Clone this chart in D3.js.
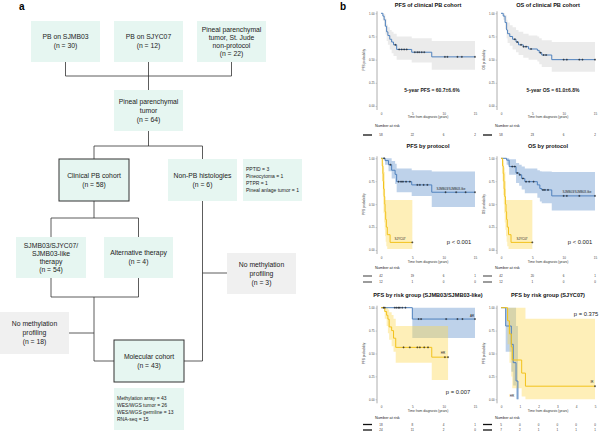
<!DOCTYPE html>
<html>
<head>
<meta charset="utf-8">
<script src="https://cdn.jsdelivr.net/npm/d3@7"></script>
<style>
  body { margin: 0; background: #fff; }
  svg { font-family: "Liberation Sans", Arial, Helvetica, sans-serif; }
</style>
</head>
<body>
<svg id="fig" width="600" height="433"></svg>
<script>
// ---------------- panel a: flowchart labels ----------------
const flowLabels = {
  sjmb03:   ['PB on SJMB03', '(n = 30)'],
  sjyc07:   ['PB on SJYC07', '(n = 12)'],
  nonprot:  ['Pineal parenchymal', 'tumor, St. Jude', 'non-protocol', '(n = 22)'],
  ppt:      ['Pineal parenchymal', 'tumor', '(n = 64)'],
  clinical: ['Clinical PB cohort', '(n = 58)'],
  nonpb:    ['Non-PB histologies', '(n = 6)'],
  histo:    ['PPTID = 3', 'Pineocytoma = 1', 'PTPR = 1', 'Pineal anlage tumor = 1'],
  therapy:  ['SJMB03/SJYC07/', 'SJMB03-like', 'therapy', '(n = 54)'],
  alt:      ['Alternative therapy', '(n = 4)'],
  nometh3:  ['No methylation', 'profiling', '(n = 3)'],
  nometh18: ['No methylation', 'profiling', '(n = 18)'],
  molecular:['Molecular cohort', '(n = 43)'],
  assays:   ['Methylation array = 43', 'WES/WGS tumor = 26', 'WES/WGS germline = 13', 'RNA-seq =  15']
};

// ---------------- panel b: survival data ----------------
// PFS of clinical PB cohort
const pfsAllTime  = [0, 0.3, 0.5, 0.7, 0.9, 1.1, 1.4, 1.7, 2.0, 2.5, 4.9, 8.1, 15];
const pfsAllSurv  = [1, 0.97, 0.93, 0.86, 0.80, 0.76, 0.72, 0.69, 0.66, 0.61, 0.58, 0.53, 0.53];
const pfsAllUpper = [1, 1, 0.99, 0.94, 0.88, 0.85, 0.82, 0.80, 0.78, 0.75, 0.73, 0.70, 0.70];
const pfsAllLower = [1, 0.92, 0.86, 0.77, 0.70, 0.66, 0.61, 0.57, 0.54, 0.50, 0.47, 0.39, 0.39];
const pfsAllCens  = [2.3, 2.9, 3.3, 3.7, 4.1, 5.4, 5.8, 6.1, 6.5, 6.9, 10.2, 10.6, 12.2, 12.9, 15];

// OS of clinical PB cohort
const osAllTime  = [0, 0.35, 0.65, 0.9, 1.05, 1.4, 1.85, 2.4, 2.8, 3.55, 4.4, 5.8, 6.1, 6.5, 8.1, 15];
const osAllSurv  = [1, 0.97, 0.90, 0.82, 0.78, 0.75, 0.72, 0.69, 0.66, 0.64, 0.615, 0.60, 0.575, 0.55, 0.50, 0.50];
const osAllUpper = [1, 1, 0.98, 0.93, 0.90, 0.87, 0.85, 0.82, 0.80, 0.78, 0.76, 0.75, 0.73, 0.71, 0.69, 0.69];
const osAllLower = [1, 0.93, 0.83, 0.73, 0.68, 0.65, 0.61, 0.58, 0.55, 0.52, 0.50, 0.48, 0.45, 0.42, 0.37, 0.37];
const osAllCens  = [2.2, 2.6, 3.2, 3.6, 4.0, 4.8, 6.3, 6.8, 7.2, 10.0, 10.5, 12.5, 13.0, 15];

// PFS by protocol
const pfsMbTime  = [0, 0.65, 1.2, 1.7, 2.25, 2.5, 4.9, 8.1, 15];
const pfsMbSurv  = [1, 0.975, 0.93, 0.87, 0.825, 0.745, 0.71, 0.63, 0.63];
const pfsMbUpper = [1, 1, 1, 0.97, 0.94, 0.89, 0.87, 0.855, 0.855];
const pfsMbLower = [1, 0.93, 0.86, 0.78, 0.72, 0.63, 0.59, 0.47, 0.47];
const pfsMbCens  = [0.5, 1.5, 2.8, 3.2, 3.5, 4.0, 4.6, 5.8, 6.2, 6.8, 7.4, 10.3, 12.0, 13.5, 15];
const pfsYcTime  = [0, 0.2, 0.3, 0.35, 0.4, 0.5, 0.6, 0.65, 0.75, 0.85, 1.0, 1.45, 5];
const pfsYcSurv  = [1, 0.917, 0.833, 0.75, 0.667, 0.583, 0.5, 0.417, 0.333, 0.25, 0.167, 0.083, 0.083];
const pfsYcUpper = [1, 1, 0.98, 0.95, 0.90, 0.85, 0.75, 0.545, 0.545, 0.545, 0.545, 0.545, 0.545];
const pfsYcLower = [1, 0.75, 0.6, 0.5, 0.4, 0.3, 0.22, 0.15, 0.09, 0.04, 0.01, 0.01, 0.01];
const pfsYcCens  = [5];

// OS by protocol
const osMbTime  = [0, 0.9, 1.3, 2.4, 2.9, 3.3, 3.8, 5.8, 6.2, 6.5, 8.1, 15];
const osMbSurv  = [1, 0.98, 0.91, 0.84, 0.82, 0.78, 0.745, 0.71, 0.67, 0.655, 0.59, 0.59];
const osMbUpper = [1, 1, 0.99, 0.95, 0.93, 0.91, 0.89, 0.87, 0.86, 0.855, 0.85, 0.85];
const osMbLower = [1, 0.93, 0.82, 0.73, 0.70, 0.66, 0.62, 0.57, 0.53, 0.51, 0.43, 0.43];
const osMbCens  = [1.8, 2.2, 2.6, 3.0, 3.5, 4.0, 4.5, 5.2, 6.7, 7.0, 7.5, 10.0, 10.5, 12.5, 15];
const osYcTime  = [0, 0.25, 0.35, 0.45, 0.5, 0.6, 0.7, 0.8, 0.9, 1.0, 1.2, 1.6, 5];
const osYcSurv  = [1, 0.917, 0.833, 0.75, 0.667, 0.583, 0.5, 0.417, 0.333, 0.25, 0.167, 0.083, 0.083];
const osYcUpper = [1, 1, 0.98, 0.95, 0.90, 0.85, 0.75, 0.545, 0.545, 0.545, 0.545, 0.545, 0.545];
const osYcLower = [1, 0.75, 0.6, 0.5, 0.4, 0.3, 0.22, 0.15, 0.09, 0.04, 0.01, 0.01, 0.01];
const osYcCens  = [5];

// PFS by risk group (SJMB03/SJMB03-like)
const riskArTime  = [0, 5, 15];
const riskArSurv  = [1, 0.876, 0.876];
const riskArUpper = [1, 1, 1];
const riskArLower = [1, 0.67, 0.67];
const riskArCens  = [0.4, 0.6, 2.2, 2.5, 2.8, 3.0, 3.4, 3.9, 6.0, 6.4, 10.4, 12.2, 13.0, 15];
const riskHrTime  = [0, 0.6, 0.9, 1.1, 1.3, 1.7, 2.0, 2.35, 8.1, 10.7];
const riskHrSurv  = [1, 0.958, 0.917, 0.875, 0.79, 0.75, 0.667, 0.567, 0.46, 0.46];
const riskHrUpper = [1, 1, 1, 0.98, 0.95, 0.92, 0.88, 0.80, 0.80, 0.80];
const riskHrLower = [1, 0.88, 0.80, 0.72, 0.65, 0.58, 0.52, 0.40, 0.21, 0.21];
const riskHrCens  = [3.6, 4.6, 5.8, 6.2, 6.9, 7.5, 10.2, 10.7];

// PFS by risk group (SJYC07)
const ycHrTime  = [0, 0.25, 0.55, 0.65, 0.8, 0.9];
const ycHrSurv  = [1, 0.8, 0.6, 0.4, 0.2, 0];
const ycHrUpper = [1, 1, 1, 1, 0.8, 0.8];
const ycHrLower = [1, 0.52, 0.3, 0.15, 0, 0];
const ycIrTime  = [0, 0.35, 0.45, 0.55, 0.6, 1.1, 1.3, 5];
const ycIrSurv  = [1, 0.857, 0.714, 0.571, 0.429, 0.286, 0.143, 0.143];
const ycIrUpper = [1, 1, 1, 1, 1, 1, 0.88, 0.88];
const ycIrLower = [1, 0.6, 0.4, 0.25, 0.12, 0.03, 0, 0];
const ycIrCens  = [5];

// numbers at risk
const riskPfsAll = [[58, 22, 6, 2]];
const riskOsAll  = [[58, 23, 6, 2]];
const riskPfsProt = [[42, 19, 6, 1], [12, 1, 0, 0]];
const riskOsProt  = [[42, 20, 6, 1], [12, 1, 0, 0]];
const riskMbGroup = [[18, 8, 4, 1], [24, 11, 2, 0]];
const riskYcGroup = [[5, 0, 0, 0, 0, 0], [7, 2, 1, 1, 1, 1]];

const ticks15 = [0, 5, 10, 15];
const ticks5  = [0, 1, 2, 3, 4, 5];

// ---------------- drawing ----------------
const svg = d3.select('#fig');
const BLUE = '#4f81bd', BLUE_BAND = '#5d8fcb';
const GOLD = '#f2c21b', GOLD_BAND = '#fcd74d';
const GRAY_BAND = '#999999';

svg.append('text').attr('x', 19).attr('y', 10).attr('font-size', 10).attr('font-weight', 'bold').text('a');
svg.append('text').attr('x', 340).attr('y', 9.5).attr('font-size', 10).attr('font-weight', 'bold').text('b');

// box layout: x, y, w, h, kind
const boxLayout = {
  sjmb03:   [31, 21, 69, 41, 'mint'],
  sjyc07:   [114, 21, 69, 41, 'mint'],
  nonprot:  [197, 21, 69, 41, 'mint'],
  ppt:      [114, 90, 69, 41, 'mint'],
  clinical: [59, 159, 70, 42, 'frame'],
  nonpb:    [168, 159, 69, 42, 'mint'],
  histo:    [243, 159, 59, 42, 'list'],
  therapy:  [16, 237, 70, 41, 'mint'],
  alt:      [104, 237, 69, 41, 'mint'],
  nometh3:  [227, 253, 69, 41, 'gray'],
  nometh18: [0, 312, 69, 42, 'gray'],
  molecular:[114, 340, 70, 42, 'frame'],
  assays:   [114, 388, 70, 42, 'list']
};

const flow = svg.append('g');
// connectors
const connectors = [
  [[65.5, 62], [65.5, 76]], [[148.5, 62], [148.5, 90]], [[231.5, 62], [231.5, 76]],
  [[65.5, 76], [231.5, 76]],
  [[148.5, 131], [148.5, 146]], [[94, 146], [202.5, 146]],
  [[94, 146], [94, 159]], [[202.5, 146], [202.5, 159]],
  [[94, 201], [94, 218]], [[51, 218], [138.5, 218]],
  [[51, 218], [51, 237]], [[138.5, 218], [138.5, 237]],
  [[51, 278], [51, 297]], [[138.5, 278], [138.5, 297]], [[51, 297], [138.5, 297]],
  [[94, 297], [94, 361]], [[94, 361], [114, 361]], [[69, 333], [94, 333]],
  [[202.5, 201], [202.5, 361]], [[184, 361], [202.5, 361]], [[202.5, 273], [227, 273]]
];
flow.selectAll('line.conn').data(connectors).enter().append('line')
  .attr('x1', d => d[0][0]).attr('y1', d => d[0][1])
  .attr('x2', d => d[1][0]).attr('y2', d => d[1][1])
  .attr('stroke', '#333').attr('stroke-width', 0.8);

Object.keys(flowLabels).forEach(function(k) {
  const [bx, by, bw, bh, kind] = boxLayout[k];
  const lines = flowLabels[k];
  flow.append('rect').attr('x', bx).attr('y', by).attr('width', bw).attr('height', bh)
    .attr('fill', kind == 'gray' ? '#f0f0f0' : '#e6f6f1')
    .attr('stroke', kind == 'frame' ? '#333' : 'none').attr('stroke-width', 1);
  if (kind == 'list') {
    const lh = 7;
    const y0 = by + bh / 2 - (lines.length - 1) * lh / 2;
    lines.forEach((t, i) => {
      flow.append('text').attr('x', bx + 3).attr('y', y0 + i * lh).attr('dy', '0.35em')
        .attr('font-size', 5).attr('fill', '#222').text(t);
    });
  } else {
    const lh = lines.length > 3 ? 8 : 9;
    const y0 = by + bh / 2 - (lines.length - 1) * lh / 2;
    lines.forEach((t, i) => {
      flow.append('text').attr('x', bx + bw / 2).attr('y', y0 + i * lh).attr('dy', '0.35em')
        .attr('text-anchor', 'middle').attr('font-size', 6.8).attr('fill', '#222').text(t);
    });
  }
});

// ---------------- Kaplan-Meier panels ----------------
function curve(time, surv, upper, lower, cens, color, band, bandOp) {
  return {time, surv, upper, lower, cens, color, band, bandOp};
}

function survAt(c, t) {
  let s = c.surv[0];
  for (let i = 0; i < c.time.length; i++) if (c.time[i] <= t) s = c.surv[i];
  return s;
}

function drawKM(p) {
  const x = d3.scaleLinear().domain([0, p.tmax]).range([p.x0, p.x1]);
  const y = d3.scaleLinear().domain([0, 1]).range([p.yBot, p.yTop]);
  const g = svg.append('g');

  g.append('text').attr('x', (p.x0 + p.x1) / 2).attr('y', p.titleY).attr('text-anchor', 'middle')
    .attr('font-size', 5.6).attr('font-weight', 'bold').attr('fill', '#111').text(p.title);

  // confidence bands
  p.curves.forEach(function(c) {
    const pts = c.time.map((t, i) => ({t: t, u: c.upper[i], l: c.lower[i]}));
    g.append('path').datum(pts)
      .attr('d', d3.area().curve(d3.curveStepAfter).x(d => x(d.t)).y0(d => y(d.l)).y1(d => y(d.u)))
      .attr('fill', c.band).attr('fill-opacity', c.bandOp);
  });
  // survival steps
  p.curves.forEach(function(c) {
    const pts = c.time.map((t, i) => ({t: t, s: c.surv[i]}));
    g.append('path').datum(pts)
      .attr('d', d3.line().curve(d3.curveStepAfter).x(d => x(d.t)).y(d => y(d.s)))
      .attr('fill', 'none').attr('stroke', c.color).attr('stroke-width', 1);
  });
  // censor marks
  p.curves.forEach(function(c) {
    g.selectAll(null).data(c.cens || []).enter().append('path')
      .attr('transform', t => 'translate(' + x(t) + ',' + y(survAt(c, t)) + ')')
      .attr('d', 'M-1,0H1M0,-1V1').attr('stroke', '#222').attr('stroke-width', 0.6);
  });

  // y axis
  const ax = p.x0 - 4;
  const yAxis = g.append('g').attr('transform', 'translate(' + ax + ',0)')
    .call(d3.axisLeft(y).tickValues([0, 0.25, 0.5, 0.75, 1]).tickFormat(d3.format('.2f')).tickSize(1.5).tickPadding(1));
  yAxis.select('.domain').remove();
  yAxis.selectAll('line').attr('stroke', '#888').attr('stroke-width', 0.4);
  yAxis.selectAll('text').attr('font-size', 2.8).attr('fill', '#444').attr('font-family', null);
  g.append('line').attr('x1', ax).attr('x2', ax).attr('y1', p.yTop - 2).attr('y2', p.yBot + 4)
    .attr('stroke', '#999').attr('stroke-width', 0.8);
  g.append('text').attr('transform', 'translate(' + (p.x0 - 17.5) + ',' + ((p.yTop + p.yBot) / 2) + ') rotate(-90)')
    .attr('text-anchor', 'middle').attr('dy', '0.35em').attr('font-size', 3.2).attr('fill', '#333').text(p.ylab);

  // x axis labels
  const xAxis = g.append('g').attr('transform', 'translate(0,' + (p.yBot + 4) + ')')
    .call(d3.axisBottom(x).tickValues(p.ticks).tickFormat(d3.format('d')).tickSize(0).tickPadding(2.5));
  xAxis.select('.domain').remove();
  xAxis.selectAll('text').attr('font-size', 3).attr('fill', '#444').attr('font-family', null);
  g.append('text').attr('x', (p.x0 + p.x1) / 2).attr('y', p.xlabY).attr('dy', '0.35em')
    .attr('text-anchor', 'middle').attr('font-size', 3.3).attr('fill', '#333').text('Time from diagnosis (years)');

  // annotations
  (p.notes || []).forEach(function(n) {
    g.append('text').attr('x', n.x).attr('y', n.y).attr('dy', '0.35em')
      .attr('text-anchor', n.anchor || 'middle').attr('font-size', n.size)
      .attr('font-weight', n.bold ? 'bold' : null).attr('fill', '#222').text(n.text);
  });

  // number at risk
  g.append('text').attr('x', p.x0 - 6).attr('y', p.narY).attr('dy', '0.35em')
    .attr('font-size', 3.8).attr('fill', '#222').text('Number at risk');
  p.risk.forEach(function(row, r) {
    const ry = p.rowY[r];
    g.append('line').attr('x1', p.x0 - 18).attr('x2', p.x0 - 9).attr('y1', ry).attr('y2', ry)
      .attr('stroke', p.riskColor).attr('stroke-width', 1.3);
    g.selectAll(null).data(row).enter().append('text')
      .attr('x', (d, i) => x(p.ticks[i])).attr('y', ry).attr('dy', '0.35em')
      .attr('text-anchor', 'middle').attr('font-size', 3).attr('fill', '#333').text(d => d);
  });
}

const topRow = {yTop: 13.3, yBot: 106, titleY: 7, xlabY: 117, narY: 126, rowY: [135]};
const midRow = {yTop: 158.3, yBot: 250, titleY: 148, xlabY: 262, narY: 267.5, rowY: [276, 282]};
const botRow = {yTop: 307.7, yBot: 399.3, titleY: 297, xlabY: 411, narY: 418, rowY: [424.5, 430]};
const leftCol = {x0: 381, x1: 475};
const rightCol = {x0: 501, x1: 595};

drawKM(Object.assign({}, topRow, leftCol, {
  title: 'PFS of clinical PB cohort', ylab: 'PFS probability', tmax: 15, ticks: ticks15,
  curves: [curve(pfsAllTime, pfsAllSurv, pfsAllUpper, pfsAllLower, pfsAllCens, BLUE, GRAY_BAND, 0.2)],
  notes: [{x: 432, y: 90, text: '5-year PFS = 60.7±6.6%', size: 5, bold: true}],
  risk: riskPfsAll, riskColor: '#111'
}));
drawKM(Object.assign({}, topRow, rightCol, {
  title: 'OS of clinical PB cohort', ylab: 'OS probability', tmax: 15, ticks: ticks15,
  curves: [curve(osAllTime, osAllSurv, osAllUpper, osAllLower, osAllCens, BLUE, GRAY_BAND, 0.2)],
  notes: [{x: 553, y: 90, text: '5-year OS = 61.0±6.8%', size: 5, bold: true}],
  risk: riskOsAll, riskColor: '#111'
}));
drawKM(Object.assign({}, midRow, leftCol, {
  title: 'PFS by protocol', ylab: 'PFS probability', tmax: 15, ticks: ticks15,
  curves: [curve(pfsMbTime, pfsMbSurv, pfsMbUpper, pfsMbLower, pfsMbCens, BLUE, BLUE_BAND, 0.4),
           curve(pfsYcTime, pfsYcSurv, pfsYcUpper, pfsYcLower, pfsYcCens, GOLD, GOLD_BAND, 0.4)],
  notes: [{x: 451, y: 189, text: 'SJMB03/SJMB03-like', size: 3},
          {x: 400, y: 239, text: 'SJYC07', size: 3},
          {x: 459, y: 242, text: 'p < 0.001', size: 5.8}],
  risk: riskPfsProt, riskColor: '#666'
}));
drawKM(Object.assign({}, midRow, rightCol, {
  title: 'OS by protocol', ylab: 'OS probability', tmax: 15, ticks: ticks15,
  curves: [curve(osMbTime, osMbSurv, osMbUpper, osMbLower, osMbCens, BLUE, BLUE_BAND, 0.4),
           curve(osYcTime, osYcSurv, osYcUpper, osYcLower, osYcCens, GOLD, GOLD_BAND, 0.4)],
  notes: [{x: 577, y: 192, text: 'SJMB03/SJMB03-like', size: 3},
          {x: 522, y: 239, text: 'SJYC07', size: 3},
          {x: 580, y: 242, text: 'p < 0.001', size: 5.8}],
  risk: riskOsProt, riskColor: '#666'
}));
drawKM(Object.assign({}, botRow, leftCol, {
  title: 'PFS by risk group (SJMB03/SJMB03-like)', ylab: 'PFS probability', tmax: 15, ticks: ticks15,
  curves: [curve(riskArTime, riskArSurv, riskArUpper, riskArLower, riskArCens, BLUE, BLUE_BAND, 0.4),
           curve(riskHrTime, riskHrSurv, riskHrUpper, riskHrLower, riskHrCens, GOLD, GOLD_BAND, 0.4)],
  notes: [{x: 472, y: 316, text: 'AR', size: 3},
          {x: 443, y: 353, text: 'HR', size: 3},
          {x: 458, y: 392, text: 'p = 0.007', size: 5.8}],
  risk: riskMbGroup, riskColor: '#111'
}));
drawKM(Object.assign({}, botRow, rightCol, {
  title: 'PFS by risk group (SJYC07)', ylab: 'PFS probability', tmax: 5, ticks: ticks5,
  curves: [curve(ycHrTime, ycHrSurv, ycHrUpper, ycHrLower, [], BLUE, BLUE_BAND, 0.4),
           curve(ycIrTime, ycIrSurv, ycIrUpper, ycIrLower, ycIrCens, GOLD, GOLD_BAND, 0.4)],
  notes: [{x: 592, y: 382, text: 'IR', size: 3},
          {x: 512, y: 396, text: 'HR', size: 3},
          {x: 586, y: 314, text: 'p = 0.375', size: 5.8}],
  risk: riskYcGroup, riskColor: '#111'
}));
</script>
</body>
</html>
